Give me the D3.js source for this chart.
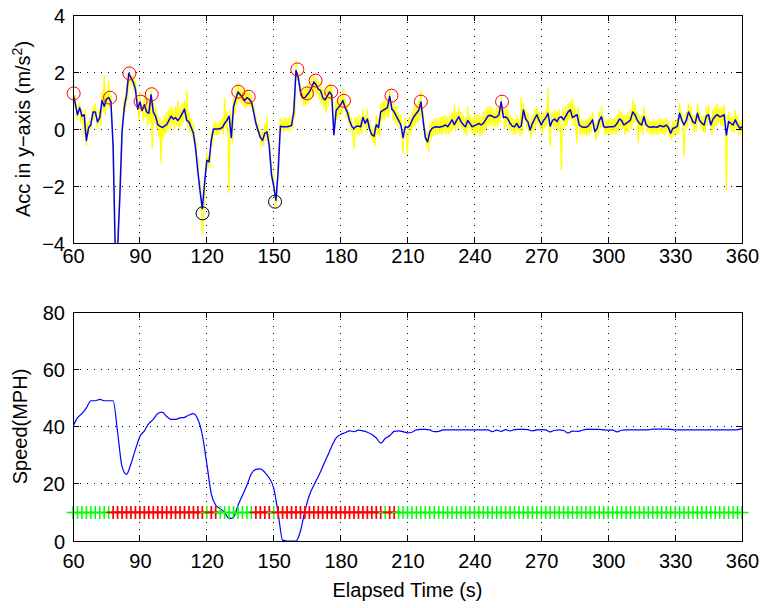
<!DOCTYPE html>
<html><head><meta charset="utf-8">
<script src="https://cdn.jsdelivr.net/npm/d3@7"></script>
<style>body{margin:0;background:#fff} svg{display:block} text{font-family:"Liberation Sans",Arial,Helvetica,sans-serif}</style>
</head><body><svg id="c" width="762" height="608"></svg>
<script>
// ---------- data ----------
const tStart = 60, tEnd = 360;
const smoothStep = 1;     // s between smoothed acc samples
const rawStep = 0.5;      // s between raw acc samples
const speedStep = 2;      // s between speed samples
const markerStep = 2;     // s between marker samples

// smoothed acceleration (blue), t = 60..360 every 1 s
const accSmooth = [
 1.25,0.9,0.5,0.75,0.45,0.5,-0.4,0.05,0.15,0.6,
 0.6,0.25,0.4,1.0,0.8,1.05,1.1,0.95,-0.6,-4.5,
 -4.2,-2.4,-0.1,0.75,1.2,1.95,1.8,1.65,1.4,0.7,
 0.95,0.65,0.85,0.6,0.55,1.2,0.6,0.45,0.15,0.1,
 0.05,0.1,0.15,0.3,0.45,0.35,0.4,0.3,0.4,0.55,
 0.7,0.3,0.25,0.05,-0.15,-0.7,-1.5,-2.2,-2.8,-1.9,
 -1.1,-1.15,-0.4,0,0,0,0.02,0.05,0.2,0.3,
 0.45,-0.3,0.8,1.05,1.3,1.2,1.1,1.0,1.1,1.05,
 0.95,0.6,0.2,-0.05,-0.3,-0.4,-0.15,-0.1,-0.6,-1.6,
 -2.0,-2.5,-1.5,0.1,0.08,0.08,0.08,0.1,0.12,0.6,
 2.05,1.8,1.3,1.1,1.1,1.2,1.3,1.45,1.65,1.55,
 1.4,1.35,1.1,1.02,1.15,1.3,1.2,-0.2,0.65,0.75,
 0.85,1.0,0.75,0.6,0.3,0.1,0.02,0.1,0.1,0.08,
 0.4,0.2,0.35,0,-0.2,-0.25,0.15,0.05,0.6,0.65,
 0.7,0.75,1.15,0.7,0.6,0.45,0.3,0.15,-0.3,0.08,
 0.05,0.12,0.3,0.45,0.55,0.65,0.95,0.3,-0.3,-0.45,
 -0.1,0.02,0.06,0.08,0.06,0.08,0.1,0.14,0.08,0.2,
 0.32,0.15,0.3,0.43,0.26,0.15,0.08,0.3,0.2,0.08,
 0.12,0.15,0.2,0.14,0.2,0.32,0.45,0.48,0.45,0.4,
 0.42,0.5,0.95,0.4,0.43,0.35,0.2,0.1,0.08,0.2,
 0.05,0.1,0.67,0.35,0.25,-0.04,0.2,0.35,0.5,0.3,
 0.14,0.3,0.4,0.55,0.1,0.3,0.35,0.26,0.4,0.43,
 0.32,0.45,0.6,0.67,0.4,0.45,0.5,0.14,0.08,0.06,
 0.06,0.1,0.2,0.32,-0.09,0.02,0.3,0.43,0.08,0.06,
 0.07,0.08,0.08,0.1,0.2,0.35,0.3,0.14,0.2,0.25,
 0.32,0.6,0.5,0.32,0.2,0.14,0.43,0.15,0.08,0.06,
 0.08,0.07,0.06,0.12,0.1,0.08,0.14,0.05,-0.15,0.02,
 0.05,0.1,0.55,0.32,0.14,0.3,0.6,0.43,0.25,0.2,
 0.55,0.3,0.2,0.14,0.45,0.5,0.14,0.35,0.45,0.5,
 0.43,0.45,0.5,-0.21,0.26,0.2,0.14,0.32,0.15,0.02,
 0.08
];

// raw acceleration (yellow), t = 60..360 every 0.5 s
const accRaw = [
 1.1,0.7, 1.2,0.6, 0.3,0.8, 0.9,0.2, 0.7,0.3, -0.3,0.7, -0.6,0.2, -0.2,0.4, 0.0,0.5, 0.8,0.3,
 0.9,0.4, 0.0,0.5, 0.7,0.1, 1.3,0.6, 1.9,0.5, 1.3,0.8, 1.7,0.7, 1.2,0.3, -1.0,-3.0, -4.5,-4.5,
 -4.0,-3.0, -1.8,-1.0, 0.2,0.6, 1.1,0.6, 1.6,1.0, 2.0,1.6, 1.9,1.5, 1.9,1.3, 1.7,1.1, 1.0,0.3,
 1.3,0.6, 0.9,0.3, 1.2,0.4, 0.9,0.1, 1.1,0.2, 1.4,-0.7, 1.0,0.2, 0.8,0.0, 0.5,-0.3, 0.4,-1.2,
 0.3,-0.3, 0.5,-0.2, 0.6,-0.1, 0.7,0.0, 0.8,0.1, 0.7,0.0, 0.8,0.1, 1.0,0.0, 0.8,0.1, 0.9,0.2,
 1.0,0.3, 1.37,0.0, 0.6,-0.1, 0.4,-0.3, 0.2,-0.5, -0.3,-1.0, -1.0,-2.0, -1.8,-2.6, -3.7,-3.2, -2.3,-1.5,
 -0.8,-1.4, -0.9,-1.3, -0.1,-0.6, 0.2,-0.2, 0.25,-0.25, 0.2,-0.2, 0.3,-0.1, 0.4,-0.2, 1.08,0.0, 0.6,0.0,
 -2.25,0.7, 0.2,-0.5, 1.1,0.5, 1.4,0.8, 1.6,1.0, 1.5,0.9, 1.4,0.8, 1.3,0.7, 1.4,0.8, 1.3,0.8,
 1.2,0.6, 0.9,0.3, 0.5,-0.1, 0.2,-0.3, 0.0,-0.6, -0.1,-0.6, 0.2,-0.4, 0.43,-0.3, -0.2,-1.0, -1.2,-1.9,
 -1.6,-2.4, -2.73,-2.2, -1.0,-0.3, 0.4,-0.1, 0.35,-0.1, 0.4,-0.05, 0.35,-0.1, 0.4,-0.05, 0.45,0.0, 1.0,0.4,
 2.42,1.7, 2.0,1.5, 1.6,1.0, 1.4,0.8, 1.45,0.8, 1.5,0.9, 1.6,1.0, 1.8,1.1, 1.9,1.3, 1.8,1.2,
 1.7,1.0, 1.65,0.9, 1.4,0.7, 1.3,0.55, 1.5,0.8, 1.6,1.0, 1.5,0.9, -0.27,0.3, 1.0,0.3, 1.1,0.4,
 1.2,0.5, 1.43,0.7, 1.1,0.4, 0.9,0.2, 0.6,-0.1, 0.4,-0.2, -0.74,0.3, 0.4,-0.2, 0.5,-0.2, 0.4,-0.2,
 0.7,0.1, 0.5,-0.1, 0.7,0.0, 0.3,-0.3, 0.0,-0.5, 0.1,-0.6, 0.5,-0.2, 0.4,-0.3, 0.9,0.3, 1.0,0.3,
 1.0,0.4, 1.1,0.4, 1.4,0.8, 1.0,0.3, 0.9,0.2, 0.8,0.1, 0.6,0.0, 0.5,-0.2, -0.85,0.1, 0.4,-0.3,
 -0.91,0.3, 0.4,-0.2, 0.6,0.0, 0.8,0.1, 0.9,0.2, 1.0,0.3, 1.37,0.6, 0.6,0.0, 0.0,-0.6, -0.1,-0.8,
 0.2,-0.4, 0.3,-0.25, 0.35,-0.2, 0.4,-0.2, 0.35,-0.2, 0.4,-0.2, 0.45,-0.15, 0.5,-0.2, 0.4,-0.2, 0.5,-0.1,
 0.6,0.0, 0.84,-0.1, 0.6,0.0, 0.8,0.1, 0.6,0.0, 0.5,-0.2, 0.4,-0.25, 0.8,0.0, 0.5,-0.1, 0.4,-0.2,
 0.5,-0.2, 0.5,-0.15, 0.5,-0.27, 0.45,-0.2, 0.6,-0.1, 0.7,0.0, 0.8,0.1, 0.8,0.1, 0.75,0.1, 0.7,0.05,
 0.75,0.1, 0.8,0.2, 1.13,0.5, 0.7,0.0, 0.75,0.1, 0.7,0.0, 0.5,-0.1, 0.4,-0.2, 0.35,-0.2, 0.5,-0.1,
 0.35,-0.25, 1.13,-0.2, 0.9,0.3, 0.7,0.0, 0.6,-0.1, 0.3,-0.35, 0.5,-0.1, 0.7,0.0, 0.8,0.2, 0.6,0.0,
 0.5,-0.2, 0.6,0.0, 0.7,0.1, 1.43,0.2, -0.62,0.4, 0.6,0.0, 0.7,0.0, 0.6,-0.1, 0.7,0.1, -1.44,0.7,
 0.6,0.0, 0.8,0.1, 0.9,0.3, 1.0,0.3, 1.08,0.1, 0.8,0.1, -0.5,0.8, 0.4,-0.2, 0.35,-0.2, 0.3,-0.2,
 0.35,-0.25, 0.4,-0.2, 0.5,-0.1, 0.6,0.0, 0.2,-0.4, 0.3,-0.25, 0.6,0.0, 0.8,0.1, 0.4,-0.2, 0.3,-0.2,
 0.35,-0.2, 0.4,-0.2, 0.35,-0.2, 0.4,-0.2, 0.5,-0.1, 0.7,0.0, 0.6,0.0, 0.5,-0.2, 0.5,-0.1, 0.6,-0.1,
 0.7,0.0, 1.02,0.2, 0.9,0.2, 0.6,-0.5, 0.5,-0.1, 0.5,-0.2, 0.8,0.1, 0.5,-0.1, 0.35,-0.2, 0.3,-0.2,
 0.35,-0.2, 0.3,-0.2, 0.3,-0.2, 0.4,-0.15, 0.35,-0.2, 0.35,-0.2, 0.4,-0.1, 0.3,-0.3, 0.1,-0.4, 0.3,-0.25,
 0.3,-0.2, 0.4,-0.2, 0.9,0.2, 0.6,0.0, -0.97,0.4, 0.6,0.0, 0.9,0.3, 0.8,0.1, 0.5,-0.1, 0.5,-0.1,
 0.9,0.2, 0.6,0.0, 0.5,-0.1, 0.45,-0.15, 0.8,0.1, 0.85,0.2, 0.45,-0.2, 0.7,0.0, 0.8,0.1, 0.9,0.2,
 0.75,0.1, 0.8,0.1, 0.85,0.2, -2.14,0.2, 0.6,0.0, 0.5,-0.1, 0.45,-0.15, 0.65,0.0, 0.5,-0.2, 0.3,-0.2,
 0.35
];

// detected events on acceleration
const peakT = [60.3,76.6,85.3,90.3,95.3,134.1,138.8,160.6,164.9,168.8,175.8,181.5,202.8,216,252.4];
const peakA = [1.25,1.1,1.95,0.96,1.22,1.31,1.13,2.09,1.25,1.7,1.31,0.99,1.17,0.96,0.96];
const valleyT = [118.1,150.6];
const valleyA = [-2.96,-2.55];

// speed (MPH), t = 60..360 every 2 s
const speed = [
 40,43,44.5,46.5,49,49,49.5,49,49,49,
 38,26,23.3,27,32,36.5,38.5,41,42.5,44.5,
 45,43.5,42.5,42.5,43,43.2,44,44.5,42.5,37,
 27,16.5,12.5,11.3,10,7.8,8.3,12.5,16,19.5,
 23.5,25,25.2,24,22,18.5,9.7,0.3,0,0,
 0,3.5,10.5,16,19.5,22.5,26,29.5,33,36,
 37.2,37.8,38.5,38.2,38.7,38.5,38,37.2,36,34.2,
 35.8,36.8,38.3,38.5,38.2,37.8,38,38.8,39,39,
 38.8,38.2,38.3,38.8,38.8,38.8,38.8,38.8,38.8,38.8,
 38.8,38.8,38.8,38.8,38.2,38.7,38.3,38.9,38.5,38.9,
 39,39,38.9,38.5,38.8,38.9,38.8,38.1,38.7,38.8,
 38.6,37.7,38.4,38.3,38.6,39,39,39,39,38.8,
 38.7,38.7,38.1,38.7,38.8,38.8,38.8,38.8,38.8,38.8,
 39.1,39.1,39.1,39.1,39,38.8,38.8,38.8,38.8,38.8,
 38.8,38.8,38.8,38.8,38.8,38.8,38.8,38.8,38.8,38.9,
 39.3
];

// state markers at speed level 10, t = 60..360 every 2 s (1 = red, 0 = green)
const markerLevel = 10;
const markerState = [
 0,0,0,0,0,0,0,0,0,1,
 1,1,1,1,1,1,1,1,1,1,
 1,1,1,1,1,1,1,1,1,1,
 0,1,1,0,0,0,0,0,0,0,
 0,1,1,1,1,0,1,1,1,1,
 1,1,1,1,1,1,1,1,1,1,
 1,1,1,1,1,1,1,1,1,1,
 0,1,1,0,0,0,0,0,0,0,
 0,0,0,0,0,0,0,0,0,0,
 0,0,0,0,0,0,0,0,0,0,
 0,0,0,0,0,0,0,0,0,0,
 0,0,0,0,0,0,0,0,0,0,
 0,0,0,0,0,0,0,0,0,0,
 0,0,0,0,0,0,0,0,0,0,
 0,0,0,0,0,0,0,0,0,0,
 0
];

const xTicks = [60,90,120,150,180,210,240,270,300,330,360];
const accTicks = [-4,-2,0,2,4];
const speedTicks = [0,20,40,60,80];
const accLabel = "Acc in y\u2212axis (m/s";
const speedLabel = "Speed(MPH)";
const xLabel = "Elapsed Time (s)";

// ---------- drawing ----------
const svg = d3.select("#c");
const FS = 20;
const L = 73, R = 742;
const x = d3.scaleLinear([tStart, tEnd], [L, R]);
const yA = d3.scaleLinear([-4, 4], [243, 15]);
const yS = d3.scaleLinear([0, 80], [541, 312]);

function frame(y, yTicks, clipId) {
  const [b, t] = y.range();
  const g = svg.append("g");
  g.append("g").selectAll("line").data(xTicks.slice(1, -1)).join("line")
    .attr("x1", d => x(d)).attr("x2", d => x(d)).attr("y1", t).attr("y2", b)
    .attr("stroke", "#000").attr("stroke-width", 1).attr("stroke-dasharray", "1,6")
    .attr("shape-rendering", "crispEdges");
  g.append("g").selectAll("line").data(yTicks.slice(1, -1)).join("line")
    .attr("y1", d => y(d)).attr("y2", d => y(d)).attr("x1", L).attr("x2", R)
    .attr("stroke", "#000").attr("stroke-width", 1).attr("stroke-dasharray", "1,6")
    .attr("shape-rendering", "crispEdges");
  svg.append("clipPath").attr("id", clipId).append("rect")
    .attr("x", L).attr("y", t).attr("width", R - L).attr("height", b - t);
  return g;
}

function axesOver(y, yTicks, xLabPad) {
  const [b, t] = y.range();
  const g = svg.append("g");
  const tk = 6;
  g.append("g").selectAll("path").data(xTicks).join("path")
    .attr("d", d => `M${x(d)},${b}V${b - tk}M${x(d)},${t}V${t + tk}`)
    .attr("stroke", "#000").attr("stroke-width", 1).attr("shape-rendering", "crispEdges");
  g.append("g").selectAll("path").data(yTicks).join("path")
    .attr("d", d => `M${L},${y(d)}H${L + tk}M${R},${y(d)}H${R - tk}`)
    .attr("stroke", "#000").attr("stroke-width", 1).attr("shape-rendering", "crispEdges");
  g.append("rect").attr("x", L).attr("y", t).attr("width", R - L).attr("height", b - t)
    .attr("fill", "none").attr("stroke", "#000").attr("stroke-width", 1)
    .attr("shape-rendering", "crispEdges");
  const ax = g.append("g").attr("transform", `translate(0,${b})`)
    .call(d3.axisBottom(x).tickValues(xTicks).tickSize(0).tickFormat(d3.format("d")));
  ax.select(".domain").remove();
  ax.selectAll("text").attr("dy", null).attr("y", xLabPad)
    .attr("font-size", FS).attr("font-family", '"Liberation Sans",Arial,sans-serif').attr("fill", "#000");
  const ay = g.append("g").attr("transform", `translate(${L},0)`)
    .call(d3.axisLeft(y).tickValues(yTicks).tickSize(0).tickPadding(8));
  ay.select(".domain").remove();
  ay.selectAll("text").attr("dy", "0.36em")
    .attr("font-size", FS).attr("font-family", '"Liberation Sans",Arial,sans-serif').attr("fill", "#000");
}

// ---- top: acceleration ----
frame(yA, accTicks, "clipA");
const tSmooth = accSmooth.map((_, i) => tStart + i * smoothStep);
const tRaw = accRaw.map((_, i) => tStart + i * rawStep);
const plotA = svg.append("g").attr("clip-path", "url(#clipA)");
plotA.append("path").datum(accRaw.map((v, i) => [tRaw[i], v]))
  .attr("d", d3.line().x(d => x(d[0])).y(d => yA(d[1])))
  .attr("fill", "none").attr("stroke", "#ffff00").attr("stroke-width", 1.3);
plotA.append("path").datum(accSmooth.map((v, i) => [tSmooth[i], v]))
  .attr("d", d3.line().x(d => x(d[0])).y(d => yA(d[1])))
  .attr("fill", "none").attr("stroke", "#0000ff").attr("stroke-width", 1.5).attr("stroke-linejoin", "round");
svg.append("g").selectAll("circle").data(peakT).join("circle")
  .attr("cx", d => x(d)).attr("cy", (d, i) => yA(peakA[i])).attr("r", 6.5)
  .attr("fill", "none").attr("stroke", "#ff0000").attr("stroke-width", 1);
svg.append("g").selectAll("circle").data(valleyT).join("circle")
  .attr("cx", d => x(d)).attr("cy", (d, i) => yA(valleyA[i])).attr("r", 6.5)
  .attr("fill", "none").attr("stroke", "#000").attr("stroke-width", 1);
axesOver(yA, accTicks, 20);

// ---- bottom: speed ----
frame(yS, speedTicks, "clipS");
const tSpeed = speed.map((_, i) => tStart + i * speedStep);
svg.append("g").attr("clip-path", "url(#clipS)").append("path")
  .datum(speed.map((v, i) => [tSpeed[i], v]))
  .attr("d", d3.line().x(d => x(d[0])).y(d => yS(d[1])).curve(d3.curveMonotoneX))
  .attr("fill", "none").attr("stroke", "#0000ff").attr("stroke-width", 1.2);
const ms = 6.5;
svg.append("g").selectAll("path").data(markerState).join("path")
  .attr("d", (d, i) => {
    const cx = x(tStart + i * markerStep), cy = yS(markerLevel);
    return `M${cx - ms},${cy}H${cx + ms}M${cx},${cy - ms}V${cy + ms}`;
  })
  .attr("fill", "none").attr("stroke", d => d ? "#ff0000" : "#00ff00").attr("stroke-width", d => d ? 1.7 : 1.5);
axesOver(yS, speedTicks, 27);

// ---- axis titles ----
const yt = svg.append("text").attr("transform", `translate(30,${(yA(4) + yA(-4)) / 2}) rotate(-90)`)
  .attr("text-anchor", "middle").attr("font-size", FS).attr("fill", "#000");
yt.append("tspan").text(accLabel);
yt.append("tspan").attr("dy", -8).attr("font-size", 14).text("2");
yt.append("tspan").attr("dy", 8).text(")");
svg.append("text").attr("transform", `translate(27,${(yS(0) + yS(80)) / 2}) rotate(-90)`)
  .attr("text-anchor", "middle").attr("font-size", FS).attr("fill", "#000").text(speedLabel);
svg.append("text").attr("x", (L + R) / 2).attr("y", 597)
  .attr("text-anchor", "middle").attr("font-size", FS).attr("fill", "#000").text(xLabel);
</script></body></html>
